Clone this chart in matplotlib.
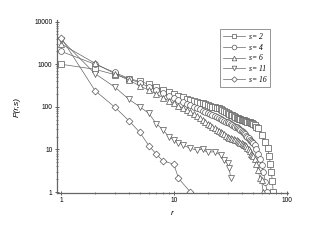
import matplotlib
matplotlib.use("Agg")
import matplotlib.pyplot as plt
from matplotlib.ticker import LogLocator, NullFormatter, FixedLocator

# ---- data (r, P(r,s)) ----
r_s2 = list(range(1, 51)) + [52, 54, 56, 60, 64, 68, 70, 72, 73, 75, 76]
p_s2 = [1000, 760, 570, 460, 395, 340, 295, 255, 225, 200,
        182, 168, 156, 146, 138, 131, 126, 121, 115, 110,
        105, 101, 98, 95, 92, 88, 84, 80, 76, 72,
        69, 66, 63, 60, 57, 55, 54, 52, 51, 50,
        49, 48, 47, 46, 45, 44, 43, 42, 41, 40,
        37, 34, 31, 22, 15, 10.6, 7, 4.5, 3, 1.8, 1]

r_s4 = list(range(1, 51)) + [52, 54, 56, 58, 60, 62, 65, 67]
p_s4 = [2000, 1000, 640, 460, 360, 295, 245, 210, 180, 160,
        145, 130, 118, 108, 100, 93, 87, 81, 76, 72,
        68, 64, 61, 58, 55, 52, 50, 47, 45, 43,
        41, 39, 37.5, 36, 34.5, 33, 31.5, 30, 28.5, 27,
        25.5, 24, 22.5, 21, 20, 18.5, 17, 16, 15, 14,
        12.7, 10, 8, 6, 4.3, 3, 1.75, 1]

r_s6 = list(range(1, 51)) + [52, 54, 56, 58, 60, 62]
p_s6 = [3000, 1050, 600, 420, 310, 245, 200, 165, 140, 120,
        106, 94, 84, 75, 67, 60, 54, 49, 44, 40,
        37, 34, 31, 29, 27, 25.5, 24, 22.5, 21, 20,
        19, 18.5, 18, 17.5, 17, 16.5, 16, 15, 14.5, 14,
        13.5, 13, 12.7, 12.3, 11, 10, 9, 8, 7.5, 7,
        6, 4.5, 3.3, 2.1, 1.9, 1]

r_s11 = [1, 2, 3, 4, 5, 6, 7, 8, 9, 10, 11, 12, 14, 16, 18, 20, 23, 26, 28, 30, 31, 32]
p_s11 = [3800, 600, 290, 150, 100, 70, 40, 29, 20, 17, 14.5, 12.7, 10.6, 9.7, 10, 8.5,
         8.9, 7.4, 5.7, 4.7, 3.6, 2.1]

r_s16 = [1, 2, 3, 4, 5, 6, 7, 8, 10, 11, 14]
p_s16 = [4200, 240, 98, 47, 25, 12.3, 7.7, 5.4, 4.5, 2.1, 1]

series = [
    (r_s2, p_s2, "s", "s= 2"),
    (r_s4, p_s4, "o", "s= 4"),
    (r_s6, p_s6, "^", "s= 6"),
    (r_s11, p_s11, "v", "s= 11"),
    (r_s16, p_s16, "D", "s= 16"),
]

LINE = "#666666"
EDGE = "#555555"

fig = plt.figure(figsize=(3.1, 2.4), dpi=100)
ax = fig.add_axes([0.184, 0.196, 0.745, 0.719])

for r, p, mk, lab in series:
    ms = 4.2 if mk != "D" else 3.5
    ax.plot(r, p, color=LINE, lw=0.5, marker=mk, ms=ms, mfc="white",
            mec=EDGE, mew=0.5, label=lab)

ax.set_xscale("log")
ax.set_yscale("log")
ax.set_xlim(0.92, 103)
ax.set_ylim(0.95, 10700)

ax.xaxis.set_major_locator(FixedLocator([1, 10, 100]))
ax.set_xticklabels(["1", "10", "100"])
ax.yaxis.set_major_locator(FixedLocator([1, 10, 100, 1000, 10000]))
ax.set_yticklabels(["1", "10", "100", "1000", "10000"])
ax.xaxis.set_minor_locator(LogLocator(base=10, subs=range(2, 10)))
ax.yaxis.set_minor_locator(LogLocator(base=10, subs=range(2, 10)))
ax.xaxis.set_minor_formatter(NullFormatter())
ax.yaxis.set_minor_formatter(NullFormatter())

for s in ("top", "right"):
    ax.spines[s].set_visible(False)
for s in ("left", "bottom"):
    ax.spines[s].set_color("#666666")
    ax.spines[s].set_linewidth(0.9)

ax.tick_params(which="major", direction="inout", length=3.5, width=0.6,
               colors="#444444", labelsize=4.8, pad=1.5)
ax.tick_params(which="minor", direction="inout", length=2, width=0.5,
               colors="#444444")
for t in ax.get_xticklabels() + ax.get_yticklabels():
    t.set_fontfamily("Liberation Sans")
    t.set_color("black")

ax.set_xlabel("r", fontsize=6, style="italic", family="Liberation Sans", labelpad=4)
ax.set_ylabel("P(r,s)", fontsize=6, style="italic", family="Liberation Sans", labelpad=10)

leg = ax.legend(loc="upper right", bbox_to_anchor=(0.94, 0.97),
                prop={"family": "Liberation Serif", "style": "italic", "size": 5.5},
                frameon=True, fancybox=False, edgecolor="#666666",
                handlelength=2.8, handletextpad=0.6, labelspacing=0.35,
                borderpad=0.45, markerscale=0.8)
leg.get_frame().set_linewidth(0.6)

fig.savefig("out.png", dpi=100)
